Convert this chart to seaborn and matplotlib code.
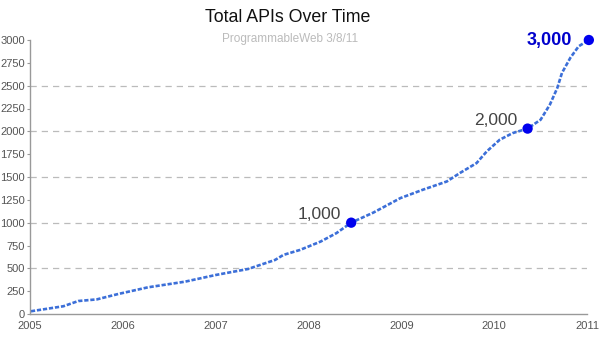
import matplotlib
matplotlib.use("Agg")
import matplotlib.pyplot as plt
import seaborn as sns
import pandas as pd

# Data
years = [2005.01, 2005.36, 2005.52, 2005.72, 2005.95, 2006.27, 2006.67, 2007.00,
         2007.35, 2007.64, 2007.73, 2007.91, 2008.13, 2008.30, 2008.46, 2008.70,
         2008.99, 2009.23, 2009.49, 2009.63, 2009.81, 2009.92, 2010.06, 2010.20,
         2010.36, 2010.50, 2010.60, 2010.68, 2010.73, 2010.82, 2010.91, 2011.02]
apis = [30, 85, 142, 160, 219, 292, 354, 427,
        493, 592, 647, 702, 793, 885, 1000, 1111,
        1269, 1360, 1451, 1543, 1652, 1780, 1908, 1981,
        2030, 2127, 2292, 2475, 2639, 2804, 2931, 3000]
milestone_years = [2008.46, 2010.36, 2011.02]
milestone_values = [1000, 2030, 3000]
milestone_labels = ["1,000", "2,000", "3,000"]
x_ticks = [2005, 2006, 2007, 2008, 2009, 2010, 2011]
y_ticks = [0, 250, 500, 750, 1000, 1250, 1500, 1750, 2000, 2250, 2500, 2750, 3000]
grid_values = [500, 1000, 1500, 2000, 2500]

sns.set_theme(style="white")
plt.rcParams['font.family'] = ['Liberation Sans', 'DejaVu Sans']

df = pd.DataFrame({"year": years, "apis": apis})

fig = plt.figure(figsize=(6, 3.4), dpi=100)
ax = fig.add_axes([30/600, 26/340, 557/600, 274/340])

for g in grid_values:
    ax.axhline(g, color="#bbbbbb", lw=0.9, ls=(0, (5, 4)), zorder=0)

sns.lineplot(data=df, x="year", y="apis", ax=ax, color="#3c6fd8", lw=1.9,
             zorder=2, clip_on=False)
ax.lines[-1].set_dashes((1.6, 0.7))

ax.scatter(milestone_years, milestone_values, s=55, color="#0000ee",
           zorder=3, clip_on=False, edgecolors="none")
for i, (mx, my, lab) in enumerate(zip(milestone_years, milestone_values, milestone_labels)):
    if i == 2:
        ax.annotate(lab, (mx, my), xytext=(-12, 0), textcoords="offset points",
                    ha="right", va="center", fontsize=13, fontweight="bold",
                    color="#0000cc", annotation_clip=False)
    else:
        ax.annotate(lab, (mx, my), xytext=(-7, 6), textcoords="offset points",
                    ha="right", va="center", fontsize=12.5, color="#444444",
                    annotation_clip=False)

ax.set_xlim(2005, 2011)
ax.set_ylim(0, 3000)
ax.set_xticks(x_ticks)
ax.set_xticklabels([str(t) for t in x_ticks])
ax.set_yticks(y_ticks)
ax.set_yticklabels([str(t) for t in y_ticks])
ax.tick_params(axis="y", length=2.5, width=0.8, color="#999999", labelsize=8,
               labelcolor="#555555", pad=1, left=True)
ax.tick_params(axis="x", length=0, labelsize=8, labelcolor="#555555", pad=5)
ax.set_xlabel("")
ax.set_ylabel("")

for side in ["top", "right"]:
    ax.spines[side].set_visible(False)
for side in ["left", "bottom"]:
    ax.spines[side].set_color("#999999")
    ax.spines[side].set_linewidth(1.0)

fig.text(0.48, 1 - 18/340, "Total APIs Over Time", ha="center", va="center",
         fontsize=12.8, color="#111111")
fig.text(0.483, 1 - 39/340, "ProgrammableWeb 3/8/11", ha="center", va="center",
         fontsize=8.5, color="#bbbbbb")

fig.savefig("out.png", dpi=100)
